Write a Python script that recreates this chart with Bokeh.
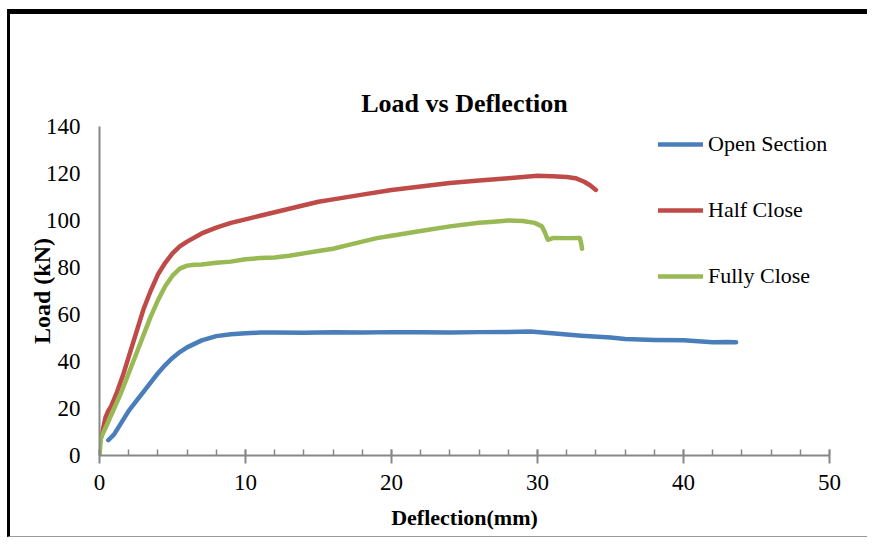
from bokeh.plotting import figure
from bokeh.models import Range1d, FixedTicker, Legend, LegendItem
from bokeh.embed import file_html
from bokeh.resources import INLINE

# Data
open_x = [0.6, 1.0, 1.5, 2.0, 2.5, 3.0, 3.5, 4.0, 4.5, 5.0, 5.5, 6.0, 7.0, 8.0, 9.0, 10.0, 11, 12, 14, 16, 18, 20, 22, 24, 26, 28, 29.5, 31, 33, 35, 36, 38, 40, 41, 42, 43, 43.6]
open_y = [6.5, 9, 14, 19, 23, 27, 31, 35, 38.5, 41.5, 44, 46, 49, 50.8, 51.6, 52, 52.3, 52.3, 52.2, 52.4, 52.3, 52.5, 52.4, 52.3, 52.5, 52.6, 52.8, 52, 51, 50.2, 49.6, 49.2, 49, 48.6, 48.2, 48.3, 48.2]

half_x = [0, 0.2, 0.4, 0.6, 0.8, 1.2, 1.6, 2.0, 2.5, 3.0, 3.5, 4.0, 4.5, 5.0, 5.5, 6.0, 7.0, 8.0, 9.0, 10, 11, 12, 13, 14, 15, 16, 18, 20, 22, 24, 26, 28, 29, 30, 31, 32, 32.6, 33.2, 33.6, 34]
half_y = [5, 10, 16, 19, 21, 27, 34, 42, 52, 62, 70, 77, 82, 86, 89, 91, 94.5, 97, 99, 100.5, 102, 103.5, 105, 106.5, 108, 109, 111, 113, 114.5, 116, 117, 118, 118.5, 119, 118.8, 118.5, 118, 116.5, 115, 113]

full_x = [0, 0.1, 0.5, 1.0, 1.5, 2.0, 2.5, 3.0, 3.5, 4.0, 4.5, 5.0, 5.5, 6.0, 6.5, 7.0, 8.0, 9.0, 10, 11, 12, 13, 14, 15, 16, 17, 18, 19, 20, 22, 24, 26, 27, 28, 29, 29.8, 30.3, 30.5, 30.7, 31.1, 32, 32.9, 33.0, 33.05]
full_y = [0, 7.5, 13, 20, 27, 35, 43, 51, 59, 66, 72, 76.5, 79.5, 80.8, 81.2, 81.3, 82, 82.5, 83.5, 84, 84.3, 85, 86, 87, 88, 89.5, 91, 92.5, 93.5, 95.5, 97.5, 99, 99.5, 100, 99.8, 99, 97.5, 95, 91.8, 92.6, 92.5, 92.6, 90, 88]

series_names = ["Open Section", "Half Close", "Fully Close"]
x_ticks = [0, 10, 20, 30, 40, 50]
y_ticks = [0, 20, 40, 60, 80, 100, 120, 140]

colors = ["#4A7EBB", "#BE4B48", "#98B954"]
SERIF = "Liberation Serif"

p = figure(width=860, height=528, output_backend="svg", toolbar_location=None,
           x_range=Range1d(0, 50), y_range=Range1d(0, 140),
           min_border_left=89, min_border_right=41, min_border_top=112, min_border_bottom=87,
           title="Load vs Deflection")
p.styles = {"border-top": "5px solid black", "border-left": "3px solid black",
            "border-bottom": "1px solid #999999", "margin-top": "9px", "margin-left": "7px"}

p.title.align = "center"
p.title.text_font = SERIF
p.title.text_font_size = "26px"
p.title.text_font_style = "bold"
p.title.text_color = "black"
p.title.standoff = 17

p.outline_line_color = None
p.xgrid.visible = False
p.ygrid.visible = False
p.background_fill_color = "white"
p.border_fill_color = "white"

renderers = []
for xs, ys, c in [(open_x, open_y, colors[0]), (half_x, half_y, colors[1]), (full_x, full_y, colors[2])]:
    r = p.line(xs, ys, line_color=c, line_width=4.5, line_join="round", line_cap="round")
    renderers.append(r)

xa = p.xaxis[0]
xa.ticker = FixedTicker(ticks=x_ticks, minor_ticks=[v for v in range(0, 51, 2)])
xa.axis_line_color = "#888888"
xa.axis_line_width = 2
xa.major_tick_line_color = "#888888"
xa.major_tick_line_width = 2
xa.major_tick_in = 6
xa.major_tick_out = 8
xa.minor_tick_line_color = "#888888"
xa.minor_tick_line_width = 1.5
xa.minor_tick_in = 6
xa.minor_tick_out = 0
xa.major_label_text_font = SERIF
xa.major_label_text_font_size = "23px"
xa.major_label_text_color = "black"
xa.major_label_standoff = 11
xa.axis_label = "Deflection(mm)"
xa.axis_label_text_font = SERIF
xa.axis_label_text_font_size = "22px"
xa.axis_label_text_font_style = "bold"
xa.axis_label_text_color = "black"
xa.axis_label_standoff = 12

ya = p.yaxis[0]
ya.ticker = FixedTicker(ticks=y_ticks)
ya.axis_line_color = "#888888"
ya.axis_line_width = 2
ya.major_tick_in = 0
ya.major_tick_out = 0
ya.minor_tick_in = 0
ya.minor_tick_out = 0
ya.major_label_text_font = SERIF
ya.major_label_text_font_size = "23px"
ya.major_label_text_color = "black"
ya.major_label_standoff = 19
ya.axis_label = "Load (kN)"
ya.axis_label_text_font = SERIF
ya.axis_label_text_font_size = "24px"
ya.axis_label_text_font_style = "bold"
ya.axis_label_text_color = "black"
ya.axis_label_standoff = -12

legend = Legend(items=[LegendItem(label=n, renderers=[r]) for n, r in zip(series_names, renderers)],
                location=(559, 166))
legend.glyph_width = 45
legend.glyph_height = 26
legend.label_height = 26
legend.spacing = 40
legend.label_standoff = 5
legend.padding = 0
legend.margin = 0
legend.border_line_alpha = 0
legend.background_fill_alpha = 0
legend.label_text_font = SERIF
legend.label_text_font_size = "22px"
legend.label_text_color = "black"
p.add_layout(legend, "center")

open("out.html", "w").write(file_html(p, INLINE))
